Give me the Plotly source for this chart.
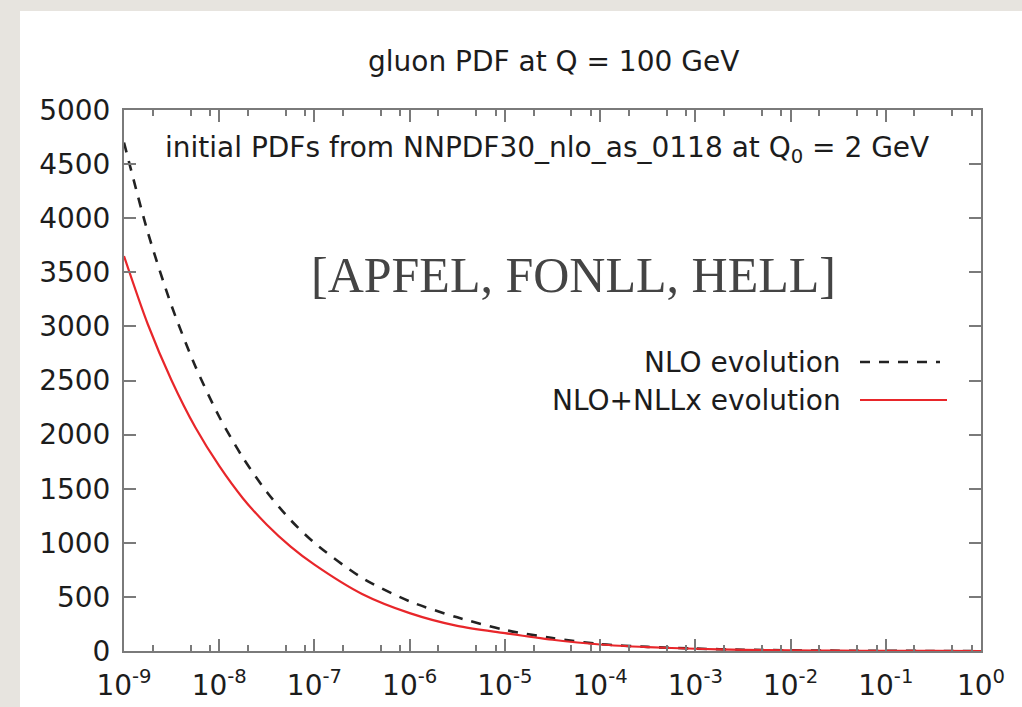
import plotly.graph_objects as go

# ---- data ----
x_vals = [1e-9, 10**-8.75, 10**-8.5, 10**-8.25, 1e-8, 10**-7.75, 10**-7.5, 10**-7.25, 1e-7,
          10**-6.5, 1e-6, 10**-5.5, 1e-5, 10**-4.5, 1e-4, 10**-3.5, 1e-3,
          10**-2.5, 1e-2, 10**-1.5, 1e-1, 10**-0.5, 1.0]
nlo = [4700, 3870, 3190, 2630, 2165, 1785, 1470, 1210, 1000,
       676, 459, 311, 195, 120, 64, 38, 22,
       12, 6, 3, 1.4, 0.5, 0]
nlo_nllx = [3650, 3020, 2500, 2065, 1710, 1410, 1167, 965, 798,
            527, 350, 232, 165, 104, 60, 36, 21,
            11, 5.5, 2.8, 1.3, 0.5, 0]

xtick_vals = [1e-9, 1e-8, 1e-7, 1e-6, 1e-5, 1e-4, 1e-3, 1e-2, 1e-1, 1.0]
xtick_text = ["10<sup>-9</sup>", "10<sup>-8</sup>", "10<sup>-7</sup>", "10<sup>-6</sup>",
              "10<sup>-5</sup>", "10<sup>-4</sup>", "10<sup>-3</sup>", "10<sup>-2</sup>",
              "10<sup>-1</sup>", "10<sup>0</sup>"]
ytick_vals = list(range(0, 5001, 500))
minor_x = [m * 10.0**e for e in range(-9, 0) for m in (2, 5, 8)]

title_text = "gluon PDF at Q = 100 GeV"
subtitle_text = "initial PDFs from NNPDF30_nlo_as_0118 at Q<sub>0</sub> = 2 GeV"
tag_text = "[APFEL, FONLL, HELL]"
legend_names = ["NLO evolution", "NLO+NLLx evolution"]

FONT = "DejaVu Sans"
FS = 28
TXT = "#1c1c1c"
AX = "#7a7a7a"
RED = "#e8262a"
DARK = "#222222"

fig = go.Figure()
fig.add_trace(go.Scatter(x=x_vals, y=nlo, mode="lines", name=legend_names[0],
                         line=dict(color=DARK, width=2.6, dash="10px,9px", shape="spline", smoothing=0.8)))
fig.add_trace(go.Scatter(x=x_vals, y=nlo_nllx, mode="lines", name=legend_names[1],
                         line=dict(color=RED, width=2.2, shape="spline", smoothing=0.8)))

L, R, T, B = 124, 41, 110, 56
W, H = 1022, 707
pw, ph = W - L - R, H - T - B

def px(xp):
    return (xp - L) / pw

def py(yp):
    return (H - B - yp) / ph

fig.update_layout(
    width=W, height=H,
    margin=dict(l=L, r=R, t=T, b=B, autoexpand=False),
    paper_bgcolor="#e7e4df",
    plot_bgcolor="white",
    showlegend=False,
    font=dict(family=FONT, color=TXT, size=FS),
)

fig.update_xaxes(
    type="log", range=[-9, 0], automargin=False,
    tickmode="array", tickvals=xtick_vals, ticktext=xtick_text,
    ticks="inside", ticklen=12, tickwidth=1.5, tickcolor=AX,
    showline=True, linecolor=AX, linewidth=2, mirror="ticks",
    showgrid=False, zeroline=False,
    tickfont=dict(family=FONT, size=FS, color=TXT),
    ticklabelstandoff=8,
    minor=dict(tickmode="array", tickvals=minor_x, ticks="inside", ticklen=6,
               tickwidth=1.5, tickcolor=AX, showgrid=False),
)
fig.update_yaxes(
    range=[0, 5000], automargin=False,
    tickmode="array", tickvals=ytick_vals,
    ticks="inside", ticklen=12, tickwidth=1.5, tickcolor=AX,
    showline=True, linecolor=AX, linewidth=2, mirror="ticks",
    showgrid=False, zeroline=False,
    tickfont=dict(family=FONT, size=FS, color=TXT),
    ticklabelstandoff=6,
)

# white slide panel
fig.add_shape(type="rect", xref="paper", yref="paper",
              x0=px(20), x1=px(1030), y0=py(715), y1=py(11),
              fillcolor="white", line=dict(width=0), layer="below")

# texts
fig.add_annotation(text=title_text, xref="paper", yref="paper", x=px(553), y=py(62),
                   showarrow=False, xanchor="center", yanchor="middle",
                   font=dict(family=FONT, size=FS, color=TXT))
fig.add_annotation(text=subtitle_text, xref="paper", yref="paper", x=px(547), y=py(149),
                   showarrow=False, xanchor="center", yanchor="middle",
                   font=dict(family=FONT, size=FS, color=TXT))
fig.add_annotation(text=tag_text, xref="paper", yref="paper", x=px(573), y=py(275),
                   showarrow=False, xanchor="center", yanchor="middle",
                   font=dict(family="Liberation Serif", size=50, color="#444444"))

# legend (gnuplot style: text then sample)
for name, ycen in zip(legend_names, [362, 400]):
    fig.add_annotation(text=name, xref="paper", yref="paper", x=px(843), y=py(ycen),
                       showarrow=False, xanchor="right", yanchor="middle",
                       font=dict(family=FONT, size=FS, color=TXT))
fig.add_shape(type="line", xref="paper", yref="paper", x0=px(860), x1=px(940),
              y0=py(362), y1=py(362), line=dict(color=DARK, width=2.6, dash="10px,9px"))
fig.add_shape(type="line", xref="paper", yref="paper", x0=px(860), x1=px(947),
              y0=py(400), y1=py(400), line=dict(color=RED, width=2.2))

fig.write_html("out.html")
